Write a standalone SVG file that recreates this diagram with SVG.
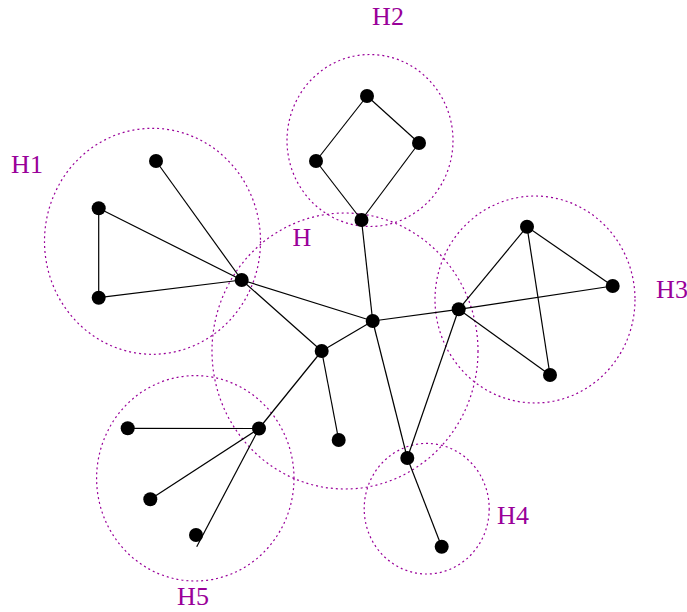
<svg xmlns="http://www.w3.org/2000/svg" width="687" height="612" viewBox="0 0 687 612">
<style>
.hull{fill:none;stroke:#990099;stroke-width:1.2;stroke-dasharray:2,3}
.lbl{font-size:26px;fill:#990099;text-anchor:middle}
.e{stroke:#000;stroke-width:1.2;fill:none}
.n{fill:#000}
</style>
<rect width="687" height="612" fill="#fff"/>
<g id="hulls">
<ellipse id="hull-H" class="hull" cx="345" cy="351" rx="133" ry="138"/>
<ellipse id="hull-H1" class="hull" cx="152.5" cy="241.3" rx="108" ry="113"/>
<ellipse id="hull-H2" class="hull" cx="370" cy="140.5" rx="83" ry="86"/>
<ellipse id="hull-H3" class="hull" cx="535" cy="299.5" rx="100" ry="103.5"/>
<ellipse id="hull-H4" class="hull" cx="426.7" cy="508.7" rx="62.5" ry="65.3"/>
<ellipse id="hull-H5" class="hull" cx="195.3" cy="478.3" rx="98.7" ry="102.7"/>
</g>
<g id="labels" font-family="'Liberation Serif', 'Times New Roman', serif">
<text class="lbl" x="388" y="25">H2</text>
<text class="lbl" x="27" y="173">H1</text>
<text class="lbl" x="302" y="246">H</text>
<text class="lbl" x="672" y="298">H3</text>
<text class="lbl" x="513" y="524">H4</text>
<text class="lbl" x="193" y="605">H5</text>
</g>
<g id="connectors">
<line class="e" x1="367" y1="96" x2="419" y2="143"/>
<line class="e" x1="367" y1="96" x2="316" y2="161"/>
<line class="e" x1="316" y1="161" x2="361.5" y2="220"/>
<line class="e" x1="419" y1="143" x2="361.5" y2="220"/>
<line class="e" x1="361.5" y1="220" x2="372.7" y2="321"/>
<line class="e" x1="156" y1="161" x2="241.7" y2="280"/>
<line class="e" x1="98.7" y1="208.3" x2="98.7" y2="297.7"/>
<line class="e" x1="98.7" y1="208.3" x2="241.7" y2="280"/>
<line class="e" x1="98.7" y1="297.7" x2="241.7" y2="280"/>
<line class="e" x1="241.7" y1="280" x2="372.7" y2="321"/>
<line class="e" x1="241.7" y1="280" x2="321.7" y2="351"/>
<line class="e" x1="321.7" y1="351" x2="372.7" y2="321"/>
<line class="e" x1="321.7" y1="351" x2="338.7" y2="440"/>
<line class="e" x1="321.7" y1="351" x2="259" y2="428.5"/>
<line class="e" x1="372.7" y1="321" x2="458.7" y2="309.3"/>
<line class="e" x1="372.7" y1="321" x2="407.3" y2="458"/>
<line class="e" x1="458.7" y1="309.3" x2="527" y2="226.7"/>
<line class="e" x1="458.7" y1="309.3" x2="612.7" y2="286"/>
<line class="e" x1="458.7" y1="309.3" x2="550" y2="375"/>
<line class="e" x1="527" y1="226.7" x2="612.7" y2="286"/>
<line class="e" x1="527" y1="226.7" x2="550" y2="375"/>
<line class="e" x1="458.7" y1="309.3" x2="407.3" y2="458"/>
<line class="e" x1="407.3" y1="458" x2="441.7" y2="546.7"/>
<line class="e" x1="259" y1="428.5" x2="127.7" y2="428.3"/>
<line class="e" x1="259" y1="428.5" x2="150.3" y2="499.3"/>
<line class="e" x1="259" y1="428.5" x2="196.7" y2="546.7"/>
</g>
<g id="nodes">
<circle id="n1" class="n" cx="367" cy="96" r="7"/>
<circle id="n2" class="n" cx="419" cy="143" r="7"/>
<circle id="n3" class="n" cx="316" cy="161" r="7"/>
<circle id="n4" class="n" cx="361.5" cy="220" r="7"/>
<circle id="n5" class="n" cx="156" cy="161" r="7"/>
<circle id="n6" class="n" cx="98.7" cy="208.3" r="7"/>
<circle id="n7" class="n" cx="98.7" cy="297.7" r="7"/>
<circle id="n8" class="n" cx="241.7" cy="280" r="7"/>
<circle id="n9" class="n" cx="372.7" cy="321" r="7"/>
<circle id="n10" class="n" cx="321.7" cy="351" r="7"/>
<circle id="n11" class="n" cx="338.7" cy="440" r="7"/>
<circle id="n12" class="n" cx="527" cy="226.7" r="7"/>
<circle id="n13" class="n" cx="612.7" cy="286" r="7"/>
<circle id="n14" class="n" cx="458.7" cy="309.3" r="7"/>
<circle id="n15" class="n" cx="550" cy="375" r="7"/>
<circle id="n16" class="n" cx="407.3" cy="458" r="7"/>
<circle id="n17" class="n" cx="441.7" cy="546.7" r="7"/>
<circle id="n18" class="n" cx="127.7" cy="428.3" r="7"/>
<circle id="n19" class="n" cx="259" cy="428.5" r="7"/>
<circle id="n20" class="n" cx="150.3" cy="499.3" r="7"/>
<circle id="n21" class="n" cx="196" cy="535" r="7"/>
</g>
</svg>
